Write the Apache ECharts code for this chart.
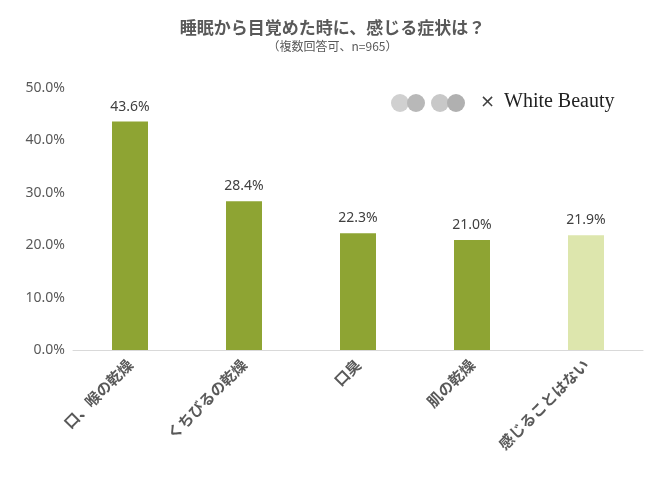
<!DOCTYPE html>
<html>
<head>
<meta charset="utf-8">
<script src="https://cdn.jsdelivr.net/npm/echarts@6/dist/echarts.min.js"></script>
<style>html,body{margin:0;padding:0;background:#fff}#chart{width:665px;height:480px}</style>
</head>
<body>
<div id="chart"></div>
<script>
// 睡眠から目覚めた時の症状
var categories = ['口、喉の乾燥', 'くちびるの乾燥', '口臭', '肌の乾燥', '感じることはない'];
var values = [43.6, 28.4, 22.3, 21.0, 21.9];
var barColors = ['#8ea433', '#8ea433', '#8ea433', '#8ea433', '#dde6ad'];

var chart = echarts.init(document.getElementById('chart'));

var option = {
    title: {
        text: '睡眠から目覚めた時に、感じる症状は？',
        subtext: '（複数回答可、n=965）',
        left: 'center',
        top: 14,
        itemGap: 4,
        textStyle: {fontFamily: 'Noto Sans CJK JP', fontSize: 17, fontWeight: 'bold', color: '#595959'},
        subtextStyle: {fontFamily: 'Noto Sans CJK JP', fontSize: 12, color: '#595959'}
    },
    grid: {left: 73, right: 22, top: 88, bottom: 130},
    xAxis: {
        type: 'category',
        data: categories,
        axisTick: {show: false},
        axisLine: {lineStyle: {color: '#d9d9d9'}},
        axisLabel: {
            rotate: 45,
            interval: 0,
            margin: 12,
            fontFamily: 'Noto Sans CJK JP',
            fontSize: 15,
            fontWeight: 'bold',
            color: '#595959'
        }
    },
    yAxis: {
        type: 'value',
        min: 0,
        max: 50,
        interval: 10,
        axisLine: {show: false},
        axisTick: {show: false},
        splitLine: {show: false},
        axisLabel: {
            formatter: function (v) { return v.toFixed(1) + '%'; },
            fontFamily: 'Noto Sans',
            fontSize: 14,
            color: '#595959'
        }
    },
    graphic: [
        {type: 'circle', shape: {cx: 400, cy: 103, r: 9}, style: {fill: '#d0d0d0'}},
        {type: 'circle', shape: {cx: 416, cy: 103, r: 9}, style: {fill: '#b8b8b8'}},
        {type: 'circle', shape: {cx: 440, cy: 103, r: 9}, style: {fill: '#c8c8c8'}},
        {type: 'circle', shape: {cx: 456, cy: 103, r: 9}, style: {fill: '#b0b0b0'}},
        {type: 'text', left: 480, top: 93, style: {text: '×', fontSize: 18, fill: '#404040', fontFamily: 'DejaVu Sans'}},
        {type: 'text', left: 504, top: 92, style: {text: 'White Beauty', fontSize: 20, fill: '#222', fontFamily: 'Liberation Serif'}}
    ],
    series: [{
        type: 'bar',
        barWidth: 36,
        data: values.map(function (v, i) {
            return {value: v, itemStyle: {color: barColors[i]}};
        }),
        label: {
            show: true,
            position: 'top',
            distance: 8,
            formatter: function (p) { return p.value.toFixed(1) + '%'; },
            fontFamily: 'Noto Sans',
            fontSize: 14,
            color: '#404040'
        }
    }]
};
chart.setOption(option);
</script>
</body>
</html>
